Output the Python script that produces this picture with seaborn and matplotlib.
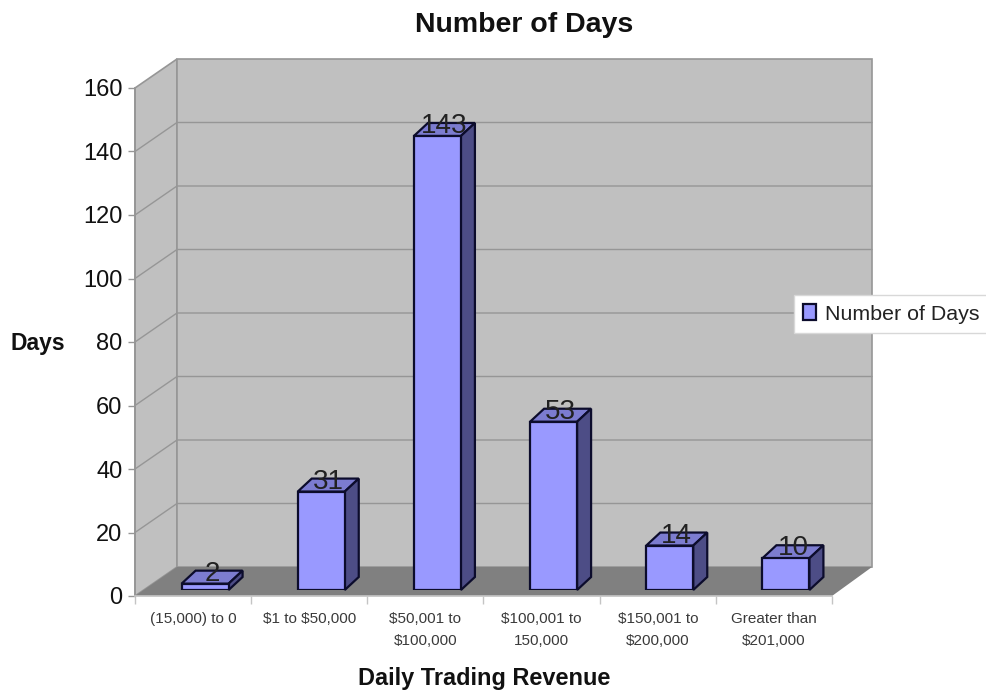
import matplotlib
matplotlib.use("Agg")
import matplotlib.pyplot as plt
import pandas as pd
import seaborn as sns
from matplotlib.patches import Polygon, Patch

categories = ["(15,000) to 0", r"\$1 to \$50,000", "\\$50,001 to\n\\$100,000",
              "\\$100,001 to\n150,000", "\\$150,001 to\n\\$200,000", "Greater than\n\\$201,000"]
days = [2, 31, 143, 53, 14, 10]
y_ticks = [0, 20, 40, 60, 80, 100, 120, 140, 160]
title = "Number of Days"
x_label = "Daily Trading Revenue"
y_label = "Days"

W, H = 987, 697
BAR = "#9999ff"
TOP = "#7c7cd0"
SIDE = "#4d4d86"
WALL = "#c0c0c0"
FLOOR = "#808080"
GRID = "#969696"
EDGE = "#0c0c2c"
FONT = "Liberation Sans"

sns.set_theme(style="white")
plt.rcParams["font.family"] = [FONT, "DejaVu Sans"]
fig = plt.figure(figsize=(W / 100, H / 100), dpi=100)


def axes_px(x0, x1, y_bottom, y_top, **kw):
    return fig.add_axes([x0 / W, 1 - y_bottom / H, (x1 - x0) / W, (y_bottom - y_top) / H], **kw)


# front plane of the 3-D box, in reference pixels
ax = axes_px(135, 832, 596, 88)
n = len(categories)
ax.set_xlim(-0.5, n - 0.5)
ax.set_ylim(0, 160)
px_x = 697 / n
px_y = 508 / 160
dx, dy = 42 / px_x, 29 / px_y
dxr = 40 / px_x

# walls and floor
x0, x1 = -0.5, n - 0.5
ax.add_patch(Polygon([(x0, 0), (x0 + dx, dy), (x0 + dx, 160 + dy), (x0, 160)], fc=WALL, ec=GRID, lw=1.2, clip_on=False, zorder=1))
ax.add_patch(Polygon([(x0 + dx, dy), (x1 + dxr, dy), (x1 + dxr, 160 + dy), (x0 + dx, 160 + dy)], fc=WALL, ec=GRID, lw=1.2, clip_on=False, zorder=1))
ax.add_patch(Polygon([(x0, 0), (x0 + dx, dy), (x1 + dxr, dy), (x1, 0)], fc=FLOOR, ec="none", clip_on=False, zorder=1.5))
for v in y_ticks[1:-1]:
    ax.plot([x0, x0 + dx, x1 + dxr], [v, v + dy, v + dy], color=GRID, lw=1.0, clip_on=False, zorder=1.6)

# axes furniture
ax.patch.set_visible(False)
for s in ax.spines.values():
    s.set_visible(False)
ax.spines["left"].set_visible(True)
ax.spines["bottom"].set_visible(True)
ax.spines["left"].set_color(GRID)
ax.spines["bottom"].set_color("#c4c4c4")
ax.set_yticks(y_ticks)
ax.tick_params(axis="y", length=5, width=1, color=GRID, labelsize=17, labelcolor="#111111", pad=4, left=True)
ax.set_xticks([i - 0.5 for i in range(n + 1)])
ax.set_xticklabels([])
ax.tick_params(axis="x", length=6, width=1, color="#c4c4c4", bottom=True)
for i, c in enumerate(categories):
    ax.text(i, -4.9, c, ha="center", va="top", fontsize=11, color="#3a3a3a", linespacing=1.8)

fig.text(524 / W, 1 - 25 / H, title, ha="center", va="center", fontsize=20.5, fontweight="bold", color="#111111")
fig.text(484 / W, 1 - 679 / H, x_label, ha="center", va="center", fontsize=16.9, fontweight="bold", color="#111111")
fig.text(38 / W, 1 - 343 / H, y_label, ha="center", va="center", fontsize=16.5, fontweight="bold", color="#111111")

# bars: overlay axes shifted into the depth of the floor
ax2 = axes_px(135 + 12, 832 + 12, 590, 82)
df = pd.DataFrame({"category": categories, "days": days})
sns.barplot(data=df, x="category", y="days", color=BAR, saturation=1, width=47 / px_x,
            edgecolor=EDGE, linewidth=1.6, zorder=3, ax=ax2)
ax2.set_xlim(-0.5, n - 0.5)
ax2.set_ylim(0, 160)
ax2.axis("off")
ax2.patch.set_visible(False)
bdx, bdy = 14 / px_x, 13 / px_y
for bar, v in zip(ax2.patches, days):
    l, r = bar.get_x(), bar.get_x() + bar.get_width()
    ax2.add_patch(Polygon([(l, v), (l + bdx, v + bdy), (r + bdx, v + bdy), (r, v)], fc=TOP, ec=EDGE, lw=1.6, clip_on=False, zorder=2.5))
    ax2.add_patch(Polygon([(r, 0), (r + bdx, bdy), (r + bdx, v + bdy), (r, v)], fc=SIDE, ec=EDGE, lw=1.6, clip_on=False, zorder=2.5))
    ax2.text((l + r) / 2 + bdx / 2, v + bdy * 0.2 - 1.8, str(v), ha="center", va="bottom", fontsize=20,
             color="#222222", clip_on=False, zorder=5)

# legend
leg = fig.legend(handles=[Patch(fc=BAR, ec=EDGE, lw=1.6, label=title)], loc="center",
                 bbox_to_anchor=(891 / W, 1 - 314 / H), fontsize=15.4, frameon=True, fancybox=False,
                 facecolor="white", edgecolor="#d8d8d8", framealpha=1, handlelength=0.65, handleheight=0.75,
                 handletextpad=0.4, borderpad=0.42, borderaxespad=0, labelcolor="#222222")
leg.set_zorder(10)

fig.savefig("out.png", dpi=100, facecolor="white")
